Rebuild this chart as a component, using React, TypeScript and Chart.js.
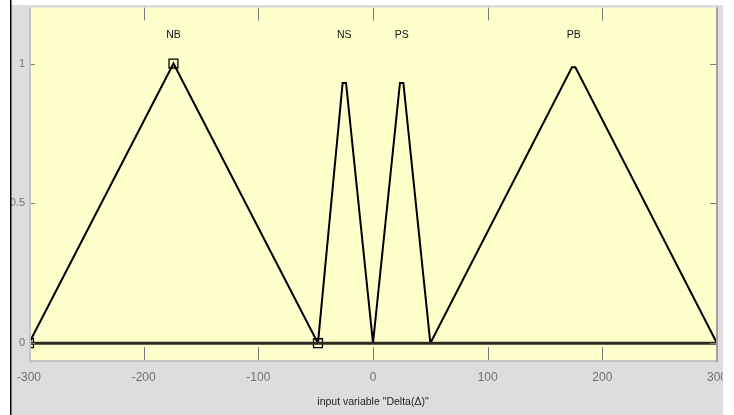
import React, { useEffect, useRef } from "react";
import { Chart, registerables } from "chart.js";

Chart.register(...registerables);

// ---- data ----
const xTicks = [-300, -200, -100, 0, 100, 200, 300];
const yTicks = [0, 0.5, 1];
const mfNames = ["NB", "NS", "PS", "PB"];
const mfLabelX = [-174, -25, 25, 175];
const mfLabelY = [1.1, 1.1, 1.1, 1.1];
const nbX = [-300, -174, -48];
const nbY = [0, 1, 0];
const nsX = [-48, -26.5, -23.5, 0];
const nsY = [0, 0.93, 0.93, 0];
const psX = [0, 23.5, 26.5, 50];
const psY = [0, 0.93, 0.93, 0];
const pbX = [50, 173.5, 176.5, 300];
const pbY = [0, 0.987, 0.987, 0];
const baseX = [-300, 300];
const baseY = [0, 0];
const xTitle = 'input variable "Delta(Δ)"';

const FONT = '"Liberation Sans Narrow", "Liberation Sans", Arial, sans-serif';

const pts = (xs: number[], ys: number[]) => xs.map((x, i) => ({ x, y: ys[i] }));

const framePlugin = {
  id: "matlabFrame",
  beforeDraw(chart: any) {
    const { ctx, width, height, chartArea: a } = chart;
    ctx.save();
    ctx.fillStyle = "#ffffff";
    ctx.fillRect(0, 0, width, height);
    ctx.fillStyle = "#dddddd";
    ctx.fillRect(11, 5, 712, height - 5);
    ctx.fillStyle = "#ffffcc";
    ctx.fillRect(a.left, a.top, a.right - a.left, a.bottom - a.top);
    ctx.restore();
  },
  afterDraw(chart: any) {
    const { ctx, width, height, chartArea: a, scales } = chart;
    const xs = scales.x;
    const ys = scales.y;
    ctx.save();
    // inner ticks
    ctx.strokeStyle = "#7a7a7a";
    ctx.lineWidth = 1;
    ctx.beginPath();
    xTicks.forEach((v) => {
      const px = Math.round(xs.getPixelForValue(v)) + 0.5;
      ctx.moveTo(px, a.top);
      ctx.lineTo(px, a.top + 13);
      ctx.moveTo(px, a.bottom);
      ctx.lineTo(px, a.bottom - 13);
    });
    yTicks.forEach((v) => {
      const py = Math.round(ys.getPixelForValue(v)) + 0.5;
      ctx.moveTo(a.left, py);
      ctx.lineTo(a.left + 6, py);
      ctx.moveTo(a.right, py);
      ctx.lineTo(a.right - 7, py);
    });
    ctx.stroke();
    // box edges
    ctx.strokeStyle = "#c4c4c4";
    ctx.lineWidth = 2;
    ctx.beginPath();
    ctx.moveTo(a.left + 1, a.top);
    ctx.lineTo(a.left + 1, a.bottom + 1);
    ctx.lineTo(a.right, a.bottom + 1);
    ctx.stroke();
    ctx.strokeStyle = "#a0a0a0";
    ctx.beginPath();
    ctx.moveTo(a.right, a.top);
    ctx.lineTo(a.right, a.bottom + 2);
    ctx.stroke();
    // membership function names
    ctx.fillStyle = "#111111";
    ctx.font = `10.5px ${FONT}`;
    ctx.textAlign = "center";
    ctx.textBaseline = "middle";
    mfNames.forEach((n, i) => {
      ctx.fillText(n, xs.getPixelForValue(mfLabelX[i]), ys.getPixelForValue(mfLabelY[i]));
    });
    // outer window edges
    ctx.fillStyle = "#ffffff";
    ctx.fillRect(723, 0, width - 723, height);
    ctx.fillRect(0, 0, 10, height);
    ctx.fillRect(0, 0, width, 5);
    ctx.fillStyle = "#000000";
    ctx.fillRect(10, 0, 1.5, height);
    ctx.restore();
  },
};

export default function App() {
  const ref = useRef<HTMLCanvasElement | null>(null);

  useEffect(() => {
    if (!ref.current) return;
    const chart = new Chart(ref.current, {
      type: "line",
      data: {
        datasets: [
          {
            label: "baseline",
            data: pts(baseX, baseY),
            borderColor: "#2b2b22",
            borderWidth: 3,
            pointRadius: 0,
            clip: 0,
          },
          {
            label: "NB",
            data: pts(nbX, nbY),
            borderColor: "#000000",
            borderWidth: 2,
            pointStyle: "rect",
            pointRadius: 6.3,
            pointBorderWidth: 1.3,
            pointBorderColor: "#000000",
            pointBackgroundColor: "rgba(0,0,0,0)",
            clip: 0,
          },
          {
            label: "NS",
            data: pts(nsX, nsY),
            borderColor: "#000000",
            borderWidth: 2,
            pointRadius: 0,
            clip: 0,
          },
          {
            label: "PS",
            data: pts(psX, psY),
            borderColor: "#000000",
            borderWidth: 2,
            pointRadius: 0,
            clip: 0,
          },
          {
            label: "PB",
            data: pts(pbX, pbY),
            borderColor: "#000000",
            borderWidth: 2,
            pointRadius: 0,
            clip: 0,
          },
        ],
      },
      options: {
        animation: false,
        responsive: false,
        devicePixelRatio: 1,
        layout: { padding: { top: 5, right: 17, left: 0, bottom: 0 } },
        plugins: {
          legend: { display: false },
          tooltip: { enabled: false },
        },
        elements: { line: { tension: 0 } },
        scales: {
          x: {
            type: "linear",
            min: -300,
            max: 300,
            afterBuildTicks: (s: any) => {
              s.ticks = xTicks.map((v) => ({ value: v }));
            },
            afterFit: (s: any) => {
              s.height = 55;
              s.paddingLeft = 0;
              s.paddingRight = 0;
            },
            grid: { display: false, drawTicks: false },
            border: { display: false },
            ticks: {
              padding: 10,
              color: "#707070",
              font: { family: FONT, size: 12 },
              maxRotation: 0,
              autoSkip: false,
              callback: (v: any) => String(v),
            },
            title: {
              display: true,
              text: xTitle,
              color: "#1e1e1e",
              font: { family: FONT, size: 10.5 },
              padding: { top: 0, bottom: 7 },
            },
          },
          y: {
            type: "linear",
            min: -0.06,
            max: 1.2,
            afterBuildTicks: (s: any) => {
              s.ticks = yTicks.map((v) => ({ value: v }));
            },
            afterFit: (s: any) => {
              s.width = 29;
              s.paddingTop = 0;
              s.paddingBottom = 0;
            },
            grid: { display: false, drawTicks: false },
            border: { display: false },
            ticks: {
              padding: 4,
              color: "#707070",
              font: { family: FONT, size: 11 },
              callback: (v: any) => String(v),
            },
          },
        },
      },
      plugins: [framePlugin],
    });
    return () => chart.destroy();
  }, []);

  return (
    <div style={{ position: "fixed", left: 0, top: 0, width: 734, height: 415 }}>
      <canvas ref={ref} width={734} height={415} style={{ display: "block" }} />
    </div>
  );
}
